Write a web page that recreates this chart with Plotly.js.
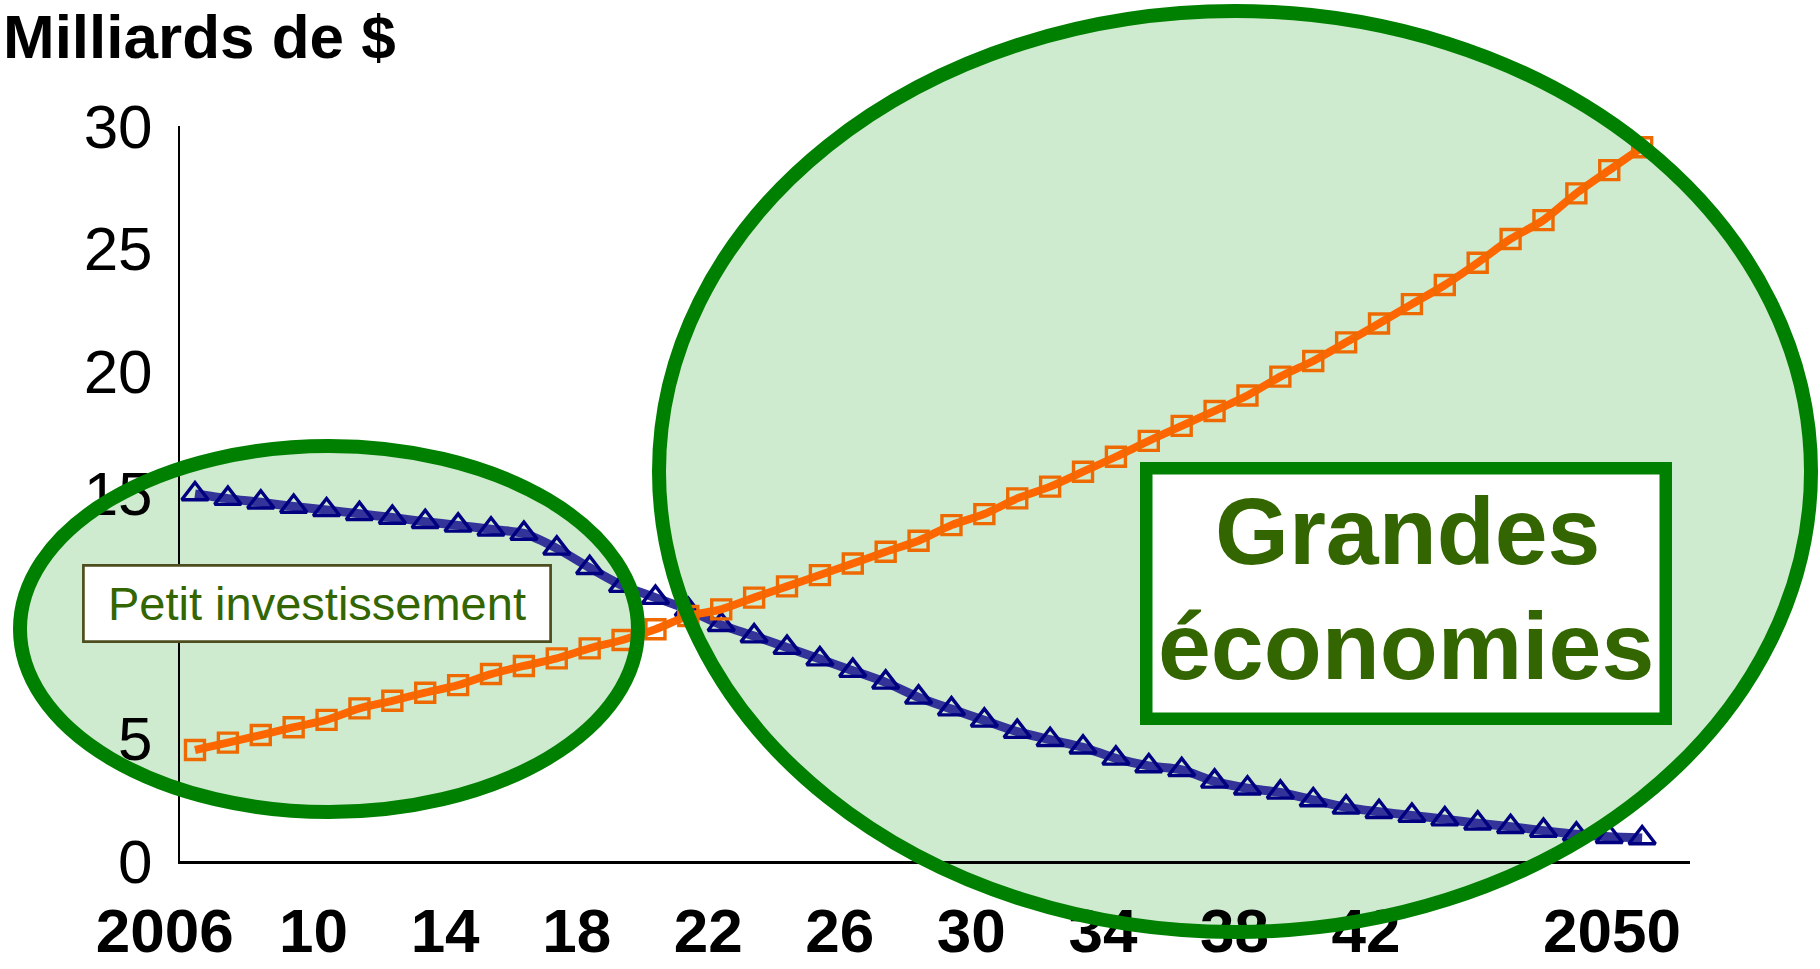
<!DOCTYPE html>
<html>
<head>
<meta charset="utf-8">
<script src="https://cdn.plot.ly/plotly-3.0.1.min.js"></script>
<style>
html,body{margin:0;padding:0;background:#fff;}
#chart{width:1820px;height:969px;}
</style>
</head>
<body>
<div id="chart"></div>
<script>
// ---- data ----
const years = [2006,2007,2008,2009,2010,2011,2012,2013,2014,2015,2016,2017,2018,2019,2020,
  2021,2022,2023,2024,2025,2026,2027,2028,2029,2030,2031,2032,2033,2034,2035,2036,2037,2038,
  2039,2040,2041,2042,2043,2044,2045,2046,2047,2048,2049,2050];
const seriesBlue = [14.98,14.79,14.64,14.47,14.33,14.17,14.02,13.85,13.70,13.54,13.37,12.76,11.97,
  11.24,10.75,10.25,9.64,9.18,8.71,8.24,7.77,7.29,6.68,6.20,5.74,5.28,4.95,4.64,4.19,3.88,3.72,
  3.25,2.97,2.80,2.49,2.19,2.01,1.86,1.71,1.54,1.40,1.24,1.09,0.99,0.94];
const seriesOrange = [4.53,4.83,5.14,5.46,5.76,6.23,6.54,6.87,7.18,7.63,7.96,8.27,8.68,9.02,9.46,
  10.00,10.27,10.75,11.21,11.67,12.14,12.62,13.07,13.71,14.16,14.80,15.28,15.89,16.50,17.15,17.76,
  18.37,19.00,19.77,20.41,21.17,21.94,22.73,23.51,24.42,25.39,26.16,27.25,28.20,29.13];
const xTickVals = [2006,2010,2014,2018,2022,2026,2030,2034,2038,2042,2050];
const xTickText = ['2006','10','14','18','22','26','30','34','38','42','2050'];
// the "10" label is hidden behind the "Petit investissement" box in the original
const yTickVals = [0,5,15,20,25,30];
const yTitle = 'Milliards de $';
const labelSmall = 'Petit investissement';
const labelBigLine1 = 'Grandes';
const labelBigLine2 = 'économies';

// ---- layout helpers (pixel -> paper) ----
const L = 180, R = 1690, T = 126, B = 861;
const px = x => (x - L) / (R - L);
const py = y => (B - y) / (B - T);
const FONT = 'Arial, "Liberation Sans", sans-serif';
const NB = '\u00a0';
const FILL = 'rgba(0,150,0,0.19)';
const GREEN = '#008000';

const traces = [
  {
    x: years, y: seriesBlue, type: 'scatter', mode: 'lines+markers',
    line: {color: '#333399', width: 9, shape: 'spline', smoothing: 0.8},
    marker: {symbol: 'triangle-up-open', size: 23, color: '#000080', line: {width: 3.4, color: '#000080'}},
    hoverinfo: 'skip'
  },
  {
    x: years, y: seriesOrange, type: 'scatter', mode: 'lines+markers',
    line: {color: '#FF6600', width: 8, shape: 'spline', smoothing: 0.8},
    marker: {symbol: 'square-open', size: 19, color: '#EE6A00', line: {width: 3.4, color: '#EE6A00'}},
    hoverinfo: 'skip'
  }
];

const ell1 = {x0: px(20), x1: px(638), y0: py(812), y1: py(446)};
const ell2 = {x0: px(659), x1: px(1811), y0: py(932), y1: py(11)};

const layout = {
  width: 1820, height: 969,
  margin: {l: L, r: 1820 - R, t: T, b: 969 - B, pad: 0},
  paper_bgcolor: '#ffffff', plot_bgcolor: 'rgba(0,0,0,0)',
  showlegend: false,
  font: {family: FONT, color: '#000'},
  xaxis: {
    range: [2005.544, 2051.455], showgrid: false, zeroline: false,
    showline: true, linecolor: '#000', linewidth: 3,
    ticks: '', tickmode: 'array', tickvals: xTickVals,
    ticktext: xTickText.map(t => t.length === 4 ? t + NB + NB : t),
    tickfont: {family: FONT, size: 62, weight: 'bold', color: '#000'},
    ticklabelshift: -13, ticklabelstandoff: 14, fixedrange: true
  },
  yaxis: {
    range: [0, 30], showgrid: false, zeroline: false,
    showline: true, linecolor: '#000', linewidth: 2,
    ticks: '', tickmode: 'array', tickvals: yTickVals,
    tickfont: {family: FONT, size: 62, color: '#000'},
    ticklabelstandoff: 13, fixedrange: true
  },
  shapes: [
    Object.assign({type: 'circle', xref: 'paper', yref: 'paper', layer: 'below',
     fillcolor: FILL, line: {width: 0}}, ell1),
    Object.assign({type: 'circle', xref: 'paper', yref: 'paper', layer: 'below',
     fillcolor: FILL, line: {width: 0}}, ell2),
    Object.assign({type: 'circle', xref: 'paper', yref: 'paper', layer: 'above',
     fillcolor: 'rgba(0,0,0,0)', line: {color: GREEN, width: 14}}, ell1),
    Object.assign({type: 'circle', xref: 'paper', yref: 'paper', layer: 'above',
     fillcolor: 'rgba(0,0,0,0)', line: {color: GREEN, width: 14}}, ell2),
    {type: 'rect', xref: 'paper', yref: 'paper', layer: 'above',
     x0: px(83.4), x1: px(550.6), y0: py(641.6), y1: py(565.4),
     fillcolor: '#ffffff', line: {color: '#4d4d1f', width: 2.7}},
    {type: 'rect', xref: 'paper', yref: 'paper', layer: 'above',
     x0: px(1146.25), x1: px(1665.75), y0: py(718.75), y1: py(468.25),
     fillcolor: '#ffffff', line: {color: GREEN, width: 12.5}}
  ],
  annotations: [
    {text: '<b>' + yTitle + '</b>', xref: 'paper', yref: 'paper', showarrow: false,
     x: px(2), y: py(1), xanchor: 'left', yanchor: 'top', borderpad: 0,
     font: {family: FONT, size: 62, color: '#000'}},
    {text: labelSmall, xref: 'paper', yref: 'paper', showarrow: false,
     x: px(317), y: py(603.4), xanchor: 'center', yanchor: 'middle', borderpad: 0,
     font: {family: FONT, size: 47, color: '#336600'}},
    {text: '<b>' + labelBigLine1 + '</b>', xref: 'paper', yref: 'paper', showarrow: false,
     x: px(1407), y: py(531), xanchor: 'center', yanchor: 'middle', borderpad: 0,
     font: {family: FONT, size: 95, color: '#336600'}},
    {text: '<b>' + labelBigLine2 + '</b>', xref: 'paper', yref: 'paper', showarrow: false,
     x: px(1406), y: py(646), xanchor: 'center', yanchor: 'middle', borderpad: 0,
     font: {family: FONT, size: 95, color: '#336600'}}
  ]
};

Plotly.newPlot('chart', traces, layout, {displayModeBar: false, staticPlot: true});
</script>
</body>
</html>
